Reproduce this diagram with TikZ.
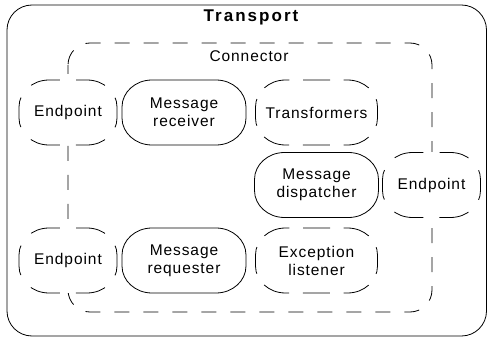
\documentclass[tikz,border=0pt]{standalone}
\usepackage{fontspec}
\setmainfont{Liberation Sans}[LetterSpace=6]

% outline with elliptic corners round a node
\newcommand\capsule[2][]{%
  \draw[#1] ([xshift=30pt]#2.north west) -- ([xshift=-30pt]#2.north east)
    arc[start angle=90, end angle=0, x radius=30, y radius=27]
    -- ([yshift=27pt]#2.south east)
    arc[start angle=0, end angle=-90, x radius=30, y radius=27]
    -- ([xshift=30pt]#2.south west)
    arc[start angle=270, end angle=180, x radius=30, y radius=27]
    -- ([yshift=-27pt]#2.north west)
    arc[start angle=180, end angle=90, x radius=30, y radius=27] -- cycle;}

\begin{document}
\begin{tikzpicture}[x=1pt, y=1pt, line width=0.8pt,
    part/.style={minimum width=124pt, minimum height=65pt, inner sep=0pt, outer sep=0pt,
      align=center, font=\fontsize{15.5}{18}\selectfont},
    optional/.style={part, fill=white, minimum width=122pt},
    endpt/.style={part, fill=white, minimum width=98pt},
    optdash/.style={dash pattern=on 27pt off 13.65pt, dash phase=23.15pt},
    epdash/.style={dash pattern=on 30pt off 16.2pt, dash phase=19.1pt},
    caption/.style={font=\fontsize{15.5}{18}\selectfont}]
  \useasboundingbox (0,0) rectangle (488,338);
  \coordinate (tr_nw) at (7,333);
  \coordinate (tr_se) at (486.5,2);
  \coordinate (co_nw) at (68,295);
  \coordinate (co_se) at (432,26);
  % transport and connector frames
  \draw[rounded corners=25pt] (tr_nw) rectangle (tr_se);
  \node[font=\fontsize{17}{18}\selectfont\bfseries\addfontfeature{LetterSpace=12}]
    (transport) at (251,321) {Transport};
  \draw[rounded corners=22pt, dash pattern=on 15pt off 14pt, dash phase=6pt] (co_nw) rectangle (co_se);
  \node[caption] (connector) at (249,282) {Connector};
  % top row
  \node[endpt] (ep1) at (68,225.5) {Endpoint};
  \node[part] (recv) at (184,225.5) {Message\\receiver};
  \node[optional] (trans) at (316.5,225.5) {Transformers};
  % middle row
  \node[part] (disp) at (316.5,153) {Message\\dispatcher};
  \node[endpt] (ep2) at (431.5,153) {Endpoint};
  % bottom row
  \node[endpt] (ep3) at (68,77.5) {Endpoint};
  \node[part] (req) at (184,77.5) {Message\\requester};
  \node[optional] (exc) at (316.5,77.5) {Exception\\listener};
  % outlines
  \capsule{recv}
  \capsule{disp}
  \capsule{req}
  \capsule[optdash]{trans}
  \capsule[optdash]{exc}
  \capsule[epdash]{ep1}
  \capsule[epdash]{ep2}
  \capsule[epdash]{ep3}
\end{tikzpicture}
\end{document}
